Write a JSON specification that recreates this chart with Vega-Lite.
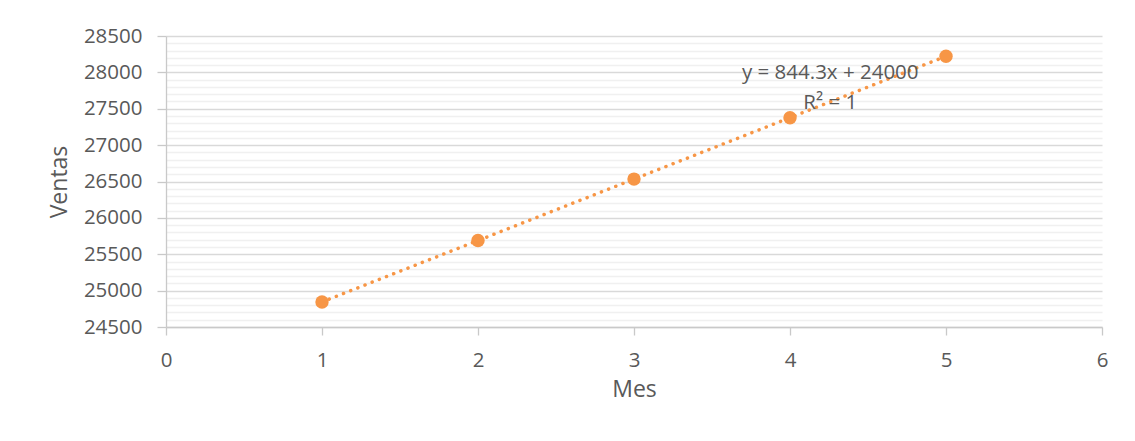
{
  "$schema": "https://vega.github.io/schema/vega-lite/v6.json",
  "autosize": {"type": "none"},
  "width": 936,
  "height": 291,
  "padding": {"left": 166, "top": 36, "right": 33, "bottom": 114},
  "background": "white",
  "config": {
    "view": {"stroke": null},
    "font": "Open Sans",
    "axis": {
      "labelFont": "Open Sans",
      "labelFontSize": 20.5,
      "labelColor": "#595959",
      "titleFont": "Open Sans",
      "titleFontSize": 23,
      "titleFontWeight": "normal",
      "titleColor": "#595959",
      "domainColor": "#c9c9c9",
      "domainWidth": 1.3,
      "tickColor": "#c9c9c9",
      "tickWidth": 1.3,
      "tickSize": 8,
      "labelFlush": false,
      "labelOverlap": false
    }
  },
  "data": {
    "values": [
      {"Mes": 1, "Ventas": 24844.3},
      {"Mes": 2, "Ventas": 25688.6},
      {"Mes": 3, "Ventas": 26532.9},
      {"Mes": 4, "Ventas": 27377.2},
      {"Mes": 5, "Ventas": 28221.5}
    ]
  },
  "encoding": {
    "x": {
      "field": "Mes",
      "type": "quantitative",
      "scale": {"domain": [0, 6], "nice": false, "zero": false},
      "axis": {
        "title": "Mes",
        "values": [0, 1, 2, 3, 4, 5, 6],
        "format": "d",
        "grid": false,
        "labelBaseline": "alphabetic",
        "labelPadding": 31,
        "titleBaseline": "alphabetic",
        "titlePadding": 26
      }
    },
    "y": {
      "field": "Ventas",
      "type": "quantitative",
      "scale": {"domain": [24500, 28500], "nice": false, "zero": false},
      "axis": {
        "title": "Ventas",
        "values": [24500, 24600, 24700, 24800, 24900, 25000, 25100, 25200, 25300, 25400, 25500, 25600, 25700, 25800, 25900, 26000, 26100, 26200, 26300, 26400, 26500, 26600, 26700, 26800, 26900, 27000, 27100, 27200, 27300, 27400, 27500, 27600, 27700, 27800, 27900, 28000, 28100, 28200, 28300, 28400, 28500],
        "format": "d",
        "labelExpr": "datum.value % 500 === 0 ? datum.value : ''",
        "grid": true,
        "gridColor": {"condition": {"test": "datum.value % 500 === 0", "value": "#d9d9d9"}, "value": "#f0f0f0"},
        "gridWidth": {"condition": {"test": "datum.value % 500 === 0", "value": 1.3}, "value": 1.5},
        "tickOpacity": {"condition": {"test": "datum.value % 500 === 0", "value": 1}, "value": 0},
        "tickSize": 9,
        "labelPadding": 15,
        "titlePadding": 12
      }
    }
  },
  "layer": [
    {
      "mark": {
        "type": "line",
        "color": "#F79646",
        "strokeWidth": 3.5,
        "strokeCap": "round",
        "strokeDash": [0.1, 7.6]
      }
    },
    {
      "mark": {"type": "point", "filled": true, "opacity": 1, "color": "#F79646", "size": 180}
    },
    {
      "transform": [{"filter": "datum.Mes == 5"}],
      "mark": {
        "type": "text",
        "font": "Open Sans",
        "fontSize": 20.5,
        "color": "#595959",
        "align": "center",
        "baseline": "alphabetic",
        "lineHeight": 29.7
      },
      "encoding": {
        "x": {"datum": 4.258, "type": "quantitative"},
        "y": {"datum": 27909, "type": "quantitative"},
        "text": {"value": ["y = 844.3x + 24000", "R² = 1"]}
      }
    }
  ]
}
